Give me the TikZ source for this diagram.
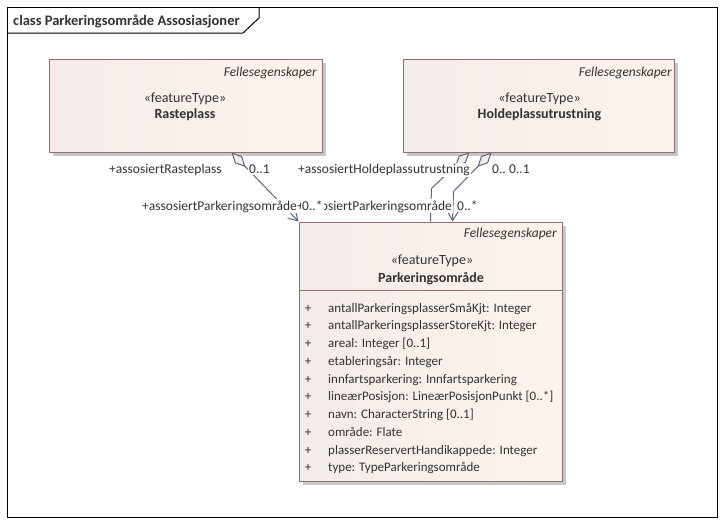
\documentclass[tikz,border=0pt]{standalone}
\usepackage{fontspec}
\setmainfont{Carlito}
\usetikzlibrary{arrows.meta,calc}

\newlength{\du}
\setlength{\du}{1pt}

\definecolor{rammelinje}{rgb}{0.000000, 0.000000, 0.000000}
\definecolor{klassekant}{rgb}{0.560000, 0.440000, 0.440000}
\definecolor{klassevenstre}{rgb}{0.960000, 0.925000, 0.915000}
\definecolor{klassehoyre}{rgb}{0.990000, 0.955000, 0.930000}
\definecolor{skyggegraa}{rgb}{0.780000, 0.780000, 0.780000}
\definecolor{linjeblaa}{rgb}{0.360000, 0.400000, 0.510000}
\definecolor{diamantfyll}{rgb}{0.970000, 0.925000, 0.910000}
\definecolor{tekstfarge}{rgb}{0.200000, 0.200000, 0.200000}

\tikzset{
  klasse/.style={rectangle, draw=klassekant, line width=1\du, left color=klassevenstre, right color=klassehoyre, inner sep=0pt},
  klasseskygge/.style={rectangle, fill=skyggegraa, draw=none, inner sep=0pt},
  tekst/.style={text=tekstfarge, inner sep=0pt, font=\fontsize{13}{15}\selectfont},
  stereotyp/.style={tekst, font=\fontsize{14}{16}\selectfont},
  klassenavn/.style={tekst, font=\fontsize{14}{16}\selectfont\bfseries},
  felles/.style={tekst, font=\fontsize{13.5}{15}\selectfont\itshape},
  rolle/.style={tekst, fill=white, inner sep=1\du, font=\fontsize{13.5}{15}\selectfont},
  forbindelse/.style={draw=linjeblaa, line width=1\du},
  aggdiamant/.style={{Diamond[fill=diamantfyll, length=20pt, width=10pt]}-},
  aggpil/.style={{Diamond[fill=diamantfyll, length=20pt, width=10pt]}-{Straight Barb[length=9pt, width=11pt]}}
}

\begin{document}
\begin{tikzpicture}
\pgftransformxscale{1.000000}
\pgftransformyscale{-1.000000}
\useasboundingbox (0.000000\du,0.000000\du) rectangle (726.000000\du,525.000000\du);
\fill[white] (0.000000\du,0.000000\du) rectangle (726.000000\du,525.000000\du);
% ramme
\draw[draw=rammelinje, line width=1\du] (7.000000\du,7.000000\du) rectangle (717.000000\du,517.000000\du);
\draw[draw=rammelinje, line width=1\du] (7.000000\du,33.000000\du)--(243.000000\du,33.000000\du)--(259.000000\du,18.000000\du)--(259.000000\du,7.000000\du);
\node[tekst, anchor=base west, font={\fontsize{14.5}{16}\selectfont\bfseries}] (tittel) at (13.000000\du,25.000000\du) {class Parkeringsområde Assosiasjoner};
% skygger
\node[klasseskygge, minimum width=273\du, minimum height=93\du] (rasteplass-skygge) at (189.000000\du,109.000000\du) {};
\node[klasseskygge, minimum width=271\du, minimum height=93\du] (holdeplass-skygge) at (542.000000\du,109.000000\du) {};
\node[klasseskygge, minimum width=263\du, minimum height=259\du] (parkering-skygge) at (434.000000\du,355.000000\du) {};
% klasser
\node[klasse, minimum width=273\du, minimum height=93\du] (rasteplass) at (185.500000\du,105.500000\du) {};
\node[felles, anchor=base east] (rasteplass-felles) at (317.000000\du,76.000000\du) {Fellesegenskaper};
\node[stereotyp, anchor=base] (rasteplass-stereo) at (185.000000\du,102.000000\du) {«featureType»};
\node[klassenavn, anchor=base] (rasteplass-navn) at (185.000000\du,118.500000\du) {Rasteplass};
\node[klasse, minimum width=271\du, minimum height=93\du] (holdeplass) at (538.500000\du,105.500000\du) {};
\node[felles, anchor=base east] (holdeplass-felles) at (672.000000\du,76.000000\du) {Fellesegenskaper};
\node[stereotyp, anchor=base] (holdeplass-stereo) at (539.500000\du,102.000000\du) {«featureType»};
\node[klassenavn, anchor=base] (holdeplass-navn) at (539.500000\du,118.500000\du) {Holdeplassutrustning};
\node[klasse, minimum width=263\du, minimum height=259\du] (parkering) at (430.500000\du,351.500000\du) {};
\draw[draw=klassekant, line width=1\du] ($(parkering.north west)+(0,69\du)$)--($(parkering.north east)+(0,69\du)$);
\node[felles, anchor=base east] (parkering-felles) at (557.000000\du,237.000000\du) {Fellesegenskaper};
\node[stereotyp, anchor=base] (parkering-stereo) at (432.000000\du,264.000000\du) {«featureType»};
\node[klassenavn, anchor=base] (parkering-navn) at (431.000000\du,282.000000\du) {Parkeringsområde};
% attributter
\node[tekst, anchor=base] (attr1-pluss) at (308.000000\du,312.000000\du) {+};
\node[tekst, anchor=base west] (attr1) at (328.000000\du,312.000000\du) {antallParkeringsplasserSmåKjt: Integer};
\node[tekst, anchor=base] (attr2-pluss) at (308.000000\du,329.750000\du) {+};
\node[tekst, anchor=base west] (attr2) at (328.000000\du,329.750000\du) {antallParkeringsplasserStoreKjt: Integer};
\node[tekst, anchor=base] (attr3-pluss) at (308.000000\du,347.500000\du) {+};
\node[tekst, anchor=base west] (attr3) at (328.000000\du,347.500000\du) {areal: Integer [0..1]};
\node[tekst, anchor=base] (attr4-pluss) at (308.000000\du,365.250000\du) {+};
\node[tekst, anchor=base west] (attr4) at (328.000000\du,365.250000\du) {etableringsår: Integer};
\node[tekst, anchor=base] (attr5-pluss) at (308.000000\du,383.000000\du) {+};
\node[tekst, anchor=base west] (attr5) at (328.000000\du,383.000000\du) {innfartsparkering: Innfartsparkering};
\node[tekst, anchor=base] (attr6-pluss) at (308.000000\du,400.750000\du) {+};
\node[tekst, anchor=base west] (attr6) at (328.000000\du,400.750000\du) {lineærPosisjon: LineærPosisjonPunkt [0..*]};
\node[tekst, anchor=base] (attr7-pluss) at (308.000000\du,418.500000\du) {+};
\node[tekst, anchor=base west] (attr7) at (328.000000\du,418.500000\du) {navn: CharacterString [0..1]};
\node[tekst, anchor=base] (attr8-pluss) at (308.000000\du,436.250000\du) {+};
\node[tekst, anchor=base west] (attr8) at (328.000000\du,436.250000\du) {område: Flate};
\node[tekst, anchor=base] (attr9-pluss) at (308.000000\du,454.000000\du) {+};
\node[tekst, anchor=base west] (attr9) at (328.000000\du,454.000000\du) {plasserReservertHandikappede: Integer};
\node[tekst, anchor=base] (attr10-pluss) at (308.000000\du,471.750000\du) {+};
\node[tekst, anchor=base west] (attr10) at (328.000000\du,471.750000\du) {type: TypeParkeringsområde};
% forbindelser
\draw[forbindelse, aggpil] ($(rasteplass.south west)+(183.000000\du,0)$)--(parkering.north west);
\draw[forbindelse, aggdiamant] ($(holdeplass.south west)+(67.000000\du,0)$)--($(parkering.north west)+(133.000000\du,-33.000000\du)$)--($(parkering.north west)+(132.000000\du,0)$);
\draw[forbindelse, aggpil] ($(holdeplass.south west)+(89.000000\du,0)$)--($(parkering.north west)+(155.000000\du,-30.000000\du)$)--($(parkering.north west)+(154.000000\du,0)$);
% roller
\node[rolle, anchor=base west] (rolle-rasteplass) at (108.000000\du,173.500000\du) {+assosiertRasteplass};
\node[rolle, anchor=base west] (mult-rasteplass) at (248.000000\du,173.500000\du) {0..1};
\node[rolle, anchor=base west] (rolle-holdeplass) at (297.000000\du,173.500000\du) {+assosiertHoldeplassutrustning};
\node[rolle, anchor=base west] (mult-holdeplass1) at (491.000000\du,173.500000\du) {0..};
\node[rolle, anchor=base west] (mult-holdeplass2) at (508.000000\du,173.500000\du) {0..1};
\node[rolle, anchor=base west] (rolle-parkering1) at (141.000000\du,210.000000\du) {+assosiertParkeringsområde};
\node[rolle, anchor=base east] (rolle-parkering2) at (453.000000\du,210.000000\du) {+assosiertParkeringsområde};
\node[rolle, anchor=base west] (mult-parkering1) at (301.000000\du,210.000000\du) {0..*};
\node[rolle, anchor=base west] (mult-parkering2) at (456.000000\du,210.000000\du) {0..*};
\end{tikzpicture}
\end{document}
